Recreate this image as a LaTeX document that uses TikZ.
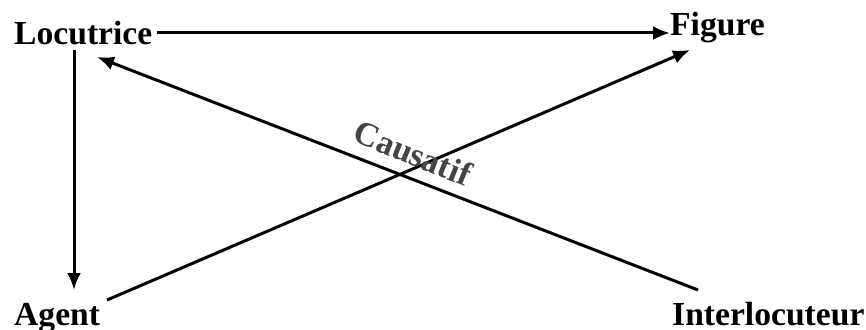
\documentclass[tikz,border=0pt]{standalone}
\usepackage{fontspec}
\setmainfont{Liberation Serif}
\usetikzlibrary{arrows.meta}
\definecolor{labgray}{HTML}{444444}
\begin{document}
\begin{tikzpicture}[x=1pt,y=-1pt,
  lab/.style={inner sep=0pt,anchor=base west,font=\fontsize{33.6}{40}\selectfont\bfseries},
  conn/.style={line width=3pt,-{Latex[length=17pt,width=14pt]}}]
\useasboundingbox (0,0) rectangle (866,329);
\node[lab] (loc) at (14,45) {Locutrice};
\node[lab] (fig) at (670,36) {Figure};
\node[lab] (agent) at (14,325) {Agent};
\node[lab] (inter) at (672,325) {Interlocuteur};
% connectors
\draw[conn] ([xshift=5pt]loc.base east) ++(0,-12) coordinate (a1) -- (a1 -| fig.base west);
\draw[conn] ([xshift=60pt,yshift=-5pt]loc.base west) -- ([xshift=60pt,yshift=35pt]agent.base west);
\draw[conn] ([xshift=26pt,yshift=35pt]inter.base west) -- ([xshift=83pt,yshift=-12pt]loc.base west);
\draw[conn] ([xshift=93pt,yshift=25pt]agent.base west) -- ([xshift=20pt,yshift=-14pt]fig.base west);
\node[inner sep=0pt,rotate=-22,text=labgray,font=\fontsize{34}{40}\selectfont\bfseries] (caus) at (413,153) {Causatif};
\end{tikzpicture}
\end{document}
